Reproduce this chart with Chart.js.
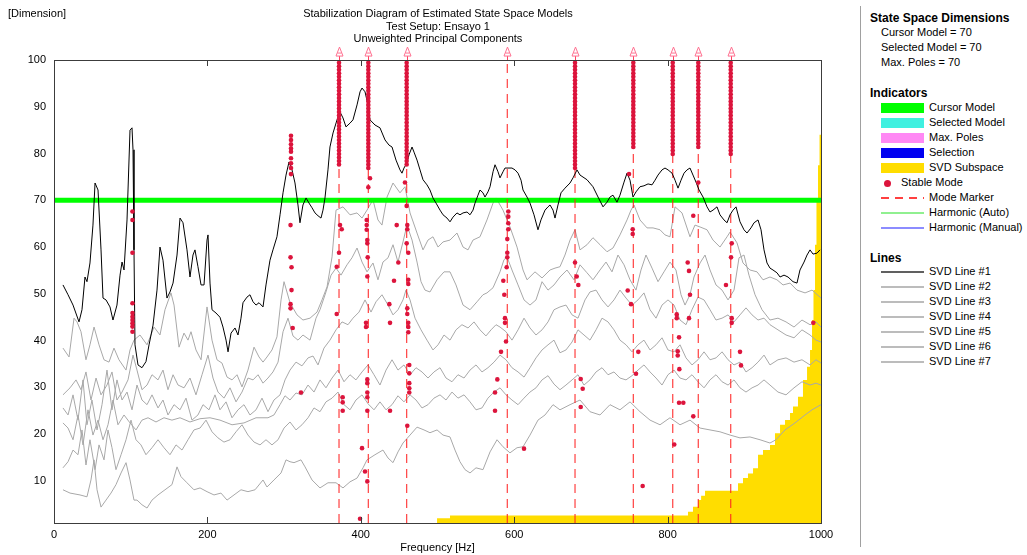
<!DOCTYPE html>
<html lang="en">
<head>
<meta charset="UTF-8">
<title>Stabilization Diagram of Estimated State Space Models</title>
<script src="https://cdn.jsdelivr.net/npm/chart.js"></script>
<style>
  body { margin: 0; background: #fff; font-family: Arial, "Liberation Sans", sans-serif; }
  #wrap { position: relative; width: 1027px; height: 555px; overflow: hidden; }
  #plot { position: absolute; left: 0; top: 0; width: 860px; height: 555px; }
  .t { position: absolute; font-size: 11px; line-height: 13px; color: #000; white-space: nowrap; }
  .h { position: absolute; font-size: 12px; line-height: 14px; font-weight: bold; color: #000; white-space: nowrap; }
  #title { left: 238px; width: 400px; top: 7px; text-align: center; line-height: 12.5px; }
  #sep { position: absolute; left: 860px; top: 6px; width: 1px; height: 541px; background: #a0a0a0; }
  .sw { position: absolute; left: 881px; width: 43px; height: 10px; }
  .ln { position: absolute; left: 881px; width: 43px; }
</style>
</head>
<body>
<div id="wrap">
  <div id="plot"><canvas id="stabChart"></canvas></div>
  <div class="t" style="left:8px; top:7px;">[Dimension]</div>
  <div class="t" id="title">Stabilization Diagram of Estimated State Space Models<br>Test Setup: Ensayo 1<br>Unweighted Principal Components</div>

  <div id="sep"></div>
  <div class="h" style="left:870px; top:11px;">State Space Dimensions</div>
  <div class="t" style="left:881px; top:26px;">Cursor Model = 70</div>
  <div class="t" style="left:881px; top:41px;">Selected Model = 70</div>
  <div class="t" style="left:881px; top:56px;">Max. Poles = 70</div>

  <div class="h" style="left:870px; top:86px;">Indicators</div>
  <div class="sw" style="top:103px; background:#00ff00;"></div>
  <div class="t" style="left:929px; top:101px;">Cursor Model</div>
  <div class="sw" style="top:118px; background:#40f0e0;"></div>
  <div class="t" style="left:929px; top:116px;">Selected Model</div>
  <div class="sw" style="top:133px; background:#ff88f4;"></div>
  <div class="t" style="left:929px; top:131px;">Max. Poles</div>
  <div class="sw" style="top:148px; background:#0000f0;"></div>
  <div class="t" style="left:929px; top:146px;">Selection</div>
  <div class="sw" style="top:163px; background:#ffdd00;"></div>
  <div class="t" style="left:929px; top:161px;">SVD Subspace</div>
  <div style="position:absolute; left:884px; top:180px; width:7px; height:7px; border-radius:50%; background:#dc143c;"></div>
  <div class="t" style="left:901px; top:176px;">Stable Mode</div>
  <div class="ln" style="top:197px; height:1.5px; background:repeating-linear-gradient(to right, #ff4040 0 8px, transparent 8px 14px);"></div>
  <div class="t" style="left:929px; top:191px;">Mode Marker</div>
  <div class="ln" style="top:212px; height:2px; background:#90f090;"></div>
  <div class="t" style="left:929px; top:206px;">Harmonic (Auto)</div>
  <div class="ln" style="top:227px; height:2px; background:#8c8cff;"></div>
  <div class="t" style="left:929px; top:221px;">Harmonic (Manual)</div>

  <div class="h" style="left:870px; top:251px;">Lines</div>
  <div class="ln" style="top:271px; height:2px; background:#606060;"></div>
  <div class="t" style="left:929px; top:265px;">SVD Line #1</div>
  <div class="ln" style="top:286px; height:1.5px; background:#bcbcbc;"></div>
  <div class="t" style="left:929px; top:280px;">SVD Line #2</div>
  <div class="ln" style="top:301px; height:1.5px; background:#bcbcbc;"></div>
  <div class="t" style="left:929px; top:295px;">SVD Line #3</div>
  <div class="ln" style="top:316px; height:1.5px; background:#bcbcbc;"></div>
  <div class="t" style="left:929px; top:310px;">SVD Line #4</div>
  <div class="ln" style="top:331px; height:1.5px; background:#bcbcbc;"></div>
  <div class="t" style="left:929px; top:325px;">SVD Line #5</div>
  <div class="ln" style="top:346px; height:1.5px; background:#bcbcbc;"></div>
  <div class="t" style="left:929px; top:340px;">SVD Line #6</div>
  <div class="ln" style="top:361px; height:1.5px; background:#bcbcbc;"></div>
  <div class="t" style="left:929px; top:355px;">SVD Line #7</div>
</div>

<script>
    // Axis ticks
    const freqTicks = [0, 200, 400, 600, 800, 1000];
    const dimTicks = [10, 20, 30, 40, 50, 60, 70, 80, 90, 100];
    const cursorModel = 70;
    const flagLevel = 101.7;
    const orderStep = 0.75;

    // Mode markers (Hz)
    const modeFreqs = [371.6, 409.8, 459.8, 591.0, 679.3, 755.3, 806.7, 840.0, 882.3];

    // Stable pole columns: [Hz, lowest order, highest order]
    const stableColumns = [
        [371.6, 77.0, 99.4], [409.8, 76.9, 99.4], [459.8, 77.5, 99.4], [679.3, 76.9, 99.4],
        [755.3, 80.8, 99.4], [806.7, 79.7, 99.4], [840.0, 80.8, 99.4], [882.3, 79.7, 99.4]
    ];

    // Single stable poles [Hz, dimension]
    const stablePoles = [
        [102.3,67.6],[102.3,65.8],[102.3,58.8],[102.3,48.0],[102.3,45.9],[102.3,45.1],[102.3,44.4],[102.3,43.7],[102.3,43.0],[102.3,41.9],
        [309.0,83.8],[309.0,82.9],[309.0,82.0],[309.0,81.1],[309.0,80.4],[309.0,79.0],[309.0,77.9],[309.0,76.9],[309.0,75.6],
        [308.4,64.7],[308.4,57.8],[309.7,55.7],[309.7,50.8],[308.4,47.8],[308.4,46.9],[311.2,42.7],[322.0,28.9],
        [372.9,64.7],[375.1,63.8],[371.6,58.8],[368.6,55.8],[368.6,45.7],[376.4,27.9],[376.4,26.8],[376.4,25.0],[399.0,1.9],[401.6,17.0],
        [412.0,74.7],[409.8,72.8],[407.7,65.8],[407.7,64.7],[407.7,63.7],[408.5,61.5],[408.5,60.8],[409.0,57.8],[408.5,53.7],
        [406.8,43.8],[406.8,42.9],[408.5,31.7],[408.5,30.9],[408.5,28.9],[408.5,27.9],[408.5,25.0],[405.5,12.0],[408.5,9.9],
        [446.8,64.7],[448.9,56.7],[443.3,52.8],[437.2,47.8],[438.1,43.8],[438.1,25.0],
        [457.6,73.8],[459.8,68.8],[460.6,64.7],[460.6,63.8],[459.8,60.8],[461.9,58.8],[461.9,53.0],[461.9,52.1],[460.6,46.9],
        [460.6,45.7],[461.9,43.8],[461.9,42.9],[461.9,41.8],[463.2,34.8],[463.2,33.0],[463.2,30.9],[463.2,29.8],[463.2,28.9],[460.6,21.8],
        [592.3,67.6],[592.3,66.5],[592.3,65.1],[592.3,63.8],[591.0,61.7],[591.0,58.8],[591.0,57.8],[590.2,55.7],[585.8,52.8],
        [587.1,49.8],[588.0,44.8],[588.0,43.8],[589.3,39.8],[582.8,37.6],[578.0,31.7],[575.0,28.9],[575.0,25.0],[612.8,16.9],
        [679.3,56.7],[681.5,53.7],[683.6,51.9],[686.7,31.8],[689.3,29.7],[686.7,25.8],
        [749.7,75.6],[754.5,63.8],[754.5,62.8],[748.0,50.7],[752.3,47.8],[761.8,37.6],[758.8,32.9],[767.5,8.9],
        [811.9,45.6],[811.9,44.8],[814.9,40.7],[813.2,37.7],[813.2,36.8],[815.3,33.9],[814.9,26.7],[820.5,26.7],[808.7,17.8],
        [826.2,56.7],[827.9,54.9],[829.2,49.8],[827.9,44.8],[833.5,66.7],[833.5,23.8],[840.0,73.8],
        [883.6,60.8],[882.7,57.8],[876.1,51.9],[883.6,44.8],[883.6,43.8],[894.4,37.6],[895.7,34.7],[990.0,43.8]
    ];

    // SVD lines [Hz, dimension]
    const svd1 = [
        [11.7,51.9],[18.3,49.8],[24.8,47.6],[32.6,44.0],[36.5,46.6],[40.4,53.6],[43.0,52.6],[46.9,56.6],[50.8,64.7],[53.5,73.7],
        [57.4,72.2],[61.3,59.4],[63.9,49.1],[67.8,48.7],[73.0,47.2],[76.9,44.4],[82.1,47.6],[86.1,54.0],[88.7,56.8],[91.3,55.1],
        [95.2,65.8],[99.1,85.0],[101.7,85.5],[103.0,80.8],[104.3,59.4],[105.6,39.1],[109.5,34.8],[114.7,34.2],[119.9,35.5],[123.9,39.1],
        [129.1,43.3],[134.3,50.8],[138.2,60.0],[142.1,57.2],[147.3,49.1],[151.2,50.4],[155.2,52.3],[160.4,58.3],[164.3,66.2],[168.2,65.2],
        [173.4,59.4],[177.3,53.6],[181.2,58.3],[183.8,59.4],[187.7,55.8],[191.7,51.9],[195.6,51.9],[199.5,61.5],[200.8,62.6],[203.4,52.3],
        [206.0,46.6],[211.2,45.9],[216.4,45.0],[220.3,42.9],[224.3,40.1],[226.9,37.6],[230.8,41.6],[236.0,42.7],[239.9,41.2],[243.8,44.8],
        [246.4,48.1],[251.6,49.3],[255.5,49.8],[259.5,48.3],[263.4,47.6],[267.3,48.1],[272.5,47.2],[276.4,51.9],[281.6,57.2],[285.5,59.4],
        [290.7,62.2],[294.7,66.9],[298.6,71.6],[302.5,75.4],[306.4,78.2],[310.3,76.5],[314.2,73.7],[318.1,69.0],[320.7,65.2],[324.6,69.0],
        [328.6,70.5],[332.5,69.4],[336.4,68.4],[340.3,67.3],[344.2,66.7],[348.1,66.2],[350.7,67.9],[353.3,70.5],[357.2,76.5],[359.8,81.4],
        [363.8,84.4],[369.0,87.2],[372.9,88.9],[376.8,87.6],[380.7,85.7],[385.9,86.5],[389.8,87.2],[395.1,90.4],[399.0,93.2],[401.6,94.0],
        [405.5,93.2],[409.4,90.4],[412.0,87.2],[418.5,86.1],[425.0,85.5],[431.6,82.9],[436.8,81.8],[440.7,81.4],[445.9,78.6],[451.1,76.5],
        [453.7,75.8],[456.3,76.9],[460.2,78.0],[462.8,79.7],[466.8,81.4],[469.4,80.3],[473.3,78.6],[477.2,76.5],[481.1,74.4],[486.3,73.3],
        [490.2,72.2],[494.1,70.5],[498.1,69.4],[503.3,67.9],[507.2,66.9],[512.4,66.2],[516.3,65.4],[520.2,66.4],[525.4,67.3],[529.3,66.9],
        [533.3,67.3],[538.5,67.5],[542.4,66.9],[546.3,67.9],[548.9,69.4],[552.8,71.1],[555.4,72.2],[559.3,71.6],[561.9,70.7],[565.8,71.8],
        [568.5,72.9],[572.4,76.1],[575.0,77.6],[578.9,76.1],[581.5,74.8],[585.4,76.1],[588.0,76.9],[591.9,76.9],[597.1,76.9],[601.1,76.5],
        [605.0,75.8],[608.9,74.3],[611.5,72.2],[616.7,70.7],[620.6,69.4],[625.8,66.9],[631.0,63.7],[634.9,65.8],[640.2,67.9],[644.1,68.6],
        [646.7,69.0],[650.6,67.9],[653.2,66.2],[657.1,69.0],[661.0,71.6],[666.2,72.6],[672.8,73.7],[676.7,74.8],[681.9,76.5],[685.8,75.4],
        [694.9,74.4],[702.7,72.9],[709.3,70.7],[715.8,68.6],[721.0,69.6],[724.9,70.7],[728.8,71.1],[734.0,69.6],[737.9,71.1],[743.2,73.9],
        [747.1,75.8],[751.0,74.3],[754.9,70.7],[758.8,71.8],[764.0,72.9],[769.2,73.1],[774.5,73.5],[779.7,73.3],[783.6,74.3],[787.5,75.4],
        [792.7,76.5],[796.6,76.9],[800.6,76.5],[805.8,75.8],[809.7,74.3],[813.6,72.6],[817.5,74.3],[821.4,75.8],[825.3,76.5],[829.2,76.9],
        [833.1,75.4],[837.0,73.9],[841.0,72.2],[846.2,70.7],[851.4,68.6],[855.3,67.5],[859.2,67.9],[864.4,68.6],[868.3,66.9],[873.5,65.8],
        [877.5,65.2],[881.4,66.9],[885.3,67.9],[889.2,68.6],[894.4,65.4],[899.6,63.7],[903.5,63.0],[908.7,64.1],[912.7,65.2],[917.9,65.8],
        [921.8,63.7],[925.7,59.4],[929.6,56.6],[933.5,55.5],[937.4,55.1],[942.6,54.5],[946.6,53.6],[951.8,54.0],[957.0,53.6],[963.5,52.6],
        [968.7,52.3],[972.6,55.1],[977.9,56.8],[981.8,58.3],[985.7,59.4],[989.6,58.5],[994.8,58.7],[998.7,59.4]
    ];
    const svd2 = [
        [11.7,38.4],[19.6,36.5],[26.1,44.8],[30.0,44.0],[35.2,41.9],[41.7,35.9],[46.9,39.1],[52.2,42.9],[58.7,39.1],[65.2,35.9],
        [71.7,35.4],[78.2,38.4],[84.7,35.9],[93.9,33.7],[99.1,38.0],[104.3,40.1],[112.1,41.2],[121.3,39.1],[130.4,42.9],[138.2,41.2],
        [144.7,46.6],[152.5,50.2],[156.5,47.6],[163.0,38.6],[169.5,41.6],[174.7,40.1],[178.6,41.9],[185.1,38.0],[191.7,35.9],[199.5,47.2],
        [206.0,40.1],[212.5,35.9],[219.0,35.2],[225.6,32.2],[232.1,31.6],[238.6,32.7],[245.1,30.1],[252.9,33.7],[260.8,38.6],[267.3,36.5],
        [272.5,35.4],[277.7,36.5],[284.2,38.0],[290.7,40.8],[296.0,48.7],[299.9,52.6],[307.7,48.1],[316.8,45.5],[324.6,44.4],[333.8,44.8],
        [342.9,46.1],[349.4,48.7],[356.0,51.5],[362.5,57.9],[367.7,67.9],[376.8,68.6],[385.9,66.9],[395.1,67.3],[401.6,66.2],[408.1,67.9],
        [415.9,70.1],[422.4,65.8],[427.6,64.7],[434.2,70.7],[442.0,73.7],[451.1,71.6],[457.6,72.9],[464.2,67.3],[473.3,63.0],[481.1,59.4],
        [487.6,61.5],[494.1,62.2],[500.7,60.0],[507.2,61.1],[516.3,61.5],[525.4,63.0],[533.3,60.0],[539.8,59.4],[546.3,61.5],[555.4,62.2],
        [564.5,65.8],[572.4,69.4],[576.3,70.5],[585.4,67.9],[594.5,64.3],[603.7,60.0],[611.5,55.1],[616.7,53.0],[627.1,54.7],[636.3,53.4],
        [646.7,55.1],[653.2,55.5],[659.7,55.8],[666.2,58.3],[672.8,61.5],[679.3,63.7],[685.8,59.4],[694.9,60.5],[702.7,62.0],[711.9,60.5],
        [721.0,59.0],[728.8,59.8],[737.9,62.6],[747.1,65.8],[752.3,67.9],[756.2,69.0],[764.0,65.8],[773.2,64.1],[781.0,64.1],[790.1,63.7],
        [796.6,62.6],[803.1,62.2],[809.7,68.6],[818.8,67.3],[829.2,62.2],[835.7,64.7],[842.3,64.3],[851.4,63.7],[859.2,61.5],[868.3,60.0],
        [877.5,62.2],[881.4,63.2],[890.5,60.9],[898.3,56.6],[907.4,55.1],[916.6,54.7],[924.4,53.0],[933.5,53.6],[942.6,53.0],[950.5,51.9],
        [959.6,52.3],[968.7,50.8],[979.2,50.2],[988.3,50.8],[1000,49.1]
    ];
    const svd3 = [
        [11.7,28.4],[20.9,29.9],[28.7,31.6],[35.2,29.5],[41.7,33.3],[48.2,27.3],[54.8,32.0],[61.3,28.4],[69.1,30.5],[75.6,33.3],
        [82.1,27.3],[88.7,29.0],[96.5,31.6],[103.0,36.9],[108.2,33.7],[114.7,29.5],[121.3,30.5],[127.8,32.7],[135.6,31.6],[142.1,33.7],
        [148.6,29.5],[155.2,32.7],[161.7,30.5],[169.5,29.9],[177.3,32.0],[185.1,28.4],[193.0,32.7],[200.8,36.9],[207.3,32.0],[213.8,29.0],
        [221.6,27.7],[229.5,29.9],[237.3,26.9],[245.1,29.0],[252.9,32.0],[259.5,31.6],[266.0,32.7],[272.5,30.9],[279.0,32.0],[285.5,33.3],
        [292.1,35.4],[298.6,41.9],[305.1,44.8],[311.6,41.0],[318.1,40.1],[324.6,41.2],[333.8,40.1],[341.6,44.8],[346.8,46.6],[354.6,50.4],
        [361.2,54.0],[367.7,55.5],[374.2,54.0],[382.0,56.2],[388.5,57.7],[395.1,59.8],[401.6,56.8],[408.1,54.7],[415.9,56.6],[422.4,53.0],
        [428.9,56.8],[435.5,57.7],[442.0,60.5],[448.5,56.8],[455.0,61.1],[460.2,64.7],[466.8,61.5],[473.3,56.8],[478.5,52.6],[483.7,50.8],
        [490.2,50.4],[499.4,53.0],[508.5,54.7],[516.3,54.7],[524.1,51.9],[533.3,47.6],[542.4,46.6],[551.5,48.3],[559.3,49.8],[564.5,50.2],
        [572.4,51.3],[581.5,54.7],[586.7,57.3],[590.6,57.9],[597.1,55.1],[605.0,51.9],[612.8,48.7],[620.6,47.6],[628.4,48.7],[636.3,52.6],
        [644.1,50.8],[651.9,51.9],[659.7,53.6],[668.8,55.1],[678.0,53.0],[685.8,56.2],[694.9,54.5],[702.7,53.0],[711.9,55.1],[719.7,56.8],
        [727.5,54.7],[735.3,58.3],[743.2,56.2],[751.0,53.0],[758.8,50.8],[765.3,55.1],[771.8,58.3],[779.7,55.5],[787.5,52.6],[795.3,54.7],
        [803.1,56.8],[810.9,55.1],[817.5,49.8],[822.7,47.6],[829.2,49.8],[834.4,53.6],[842.3,56.6],[848.8,58.3],[855.3,55.1],[863.1,51.9],
        [871.0,50.8],[878.8,48.7],[886.6,50.8],[893.1,57.7],[899.6,58.3],[906.1,54.0],[914.0,49.8],[923.1,46.6],[933.5,44.4],[943.9,44.8],
        [954.4,44.0],[964.8,42.9],[975.2,44.4],[985.7,43.4],[993.5,44.0],[1000,42.9]
    ];
    const svd4 = [
        [11.7,25.6],[18.3,24.1],[24.8,28.4],[31.3,23.0],[37.8,31.6],[43.0,22.0],[49.5,27.3],[56.1,20.9],[62.6,26.3],[69.1,33.7],
        [75.6,25.2],[82.1,31.6],[88.7,27.3],[95.2,29.0],[101.7,25.2],[108.2,30.5],[114.7,27.3],[121.3,26.3],[127.8,28.4],[135.6,25.6],
        [142.1,27.3],[148.6,24.1],[156.5,26.3],[164.3,25.2],[172.1,27.7],[179.9,23.0],[187.7,24.1],[194.3,26.3],[202.1,25.2],[209.9,28.4],
        [216.4,25.2],[224.3,26.9],[232.1,23.5],[239.9,25.2],[247.7,26.3],[255.5,24.1],[263.4,25.2],[271.2,27.7],[279.0,24.8],[286.8,27.3],
        [294.7,28.4],[301.2,31.6],[307.7,33.7],[315.5,35.4],[323.3,34.6],[331.2,36.3],[337.7,36.7],[344.2,34.8],[352.0,38.4],[359.8,40.1],
        [367.7,42.3],[375.5,44.0],[383.3,43.4],[389.8,44.8],[397.7,46.1],[405.5,48.7],[413.3,46.1],[419.8,48.3],[427.6,49.8],[435.5,47.6],
        [442.0,45.5],[448.5,46.6],[455.0,48.7],[458.9,50.8],[464.2,48.7],[470.7,44.8],[478.5,42.3],[486.3,40.1],[494.1,38.0],[500.7,39.1],
        [508.5,41.2],[516.3,40.1],[524.1,42.3],[531.9,43.4],[539.8,42.7],[547.6,44.0],[555.4,42.3],[563.2,41.0],[569.8,42.3],[576.3,43.4],
        [581.5,42.9],[589.3,41.9],[597.1,40.1],[605.0,42.3],[612.8,44.8],[620.6,42.7],[628.4,41.2],[636.3,42.3],[644.1,44.0],[651.9,46.6],
        [659.7,47.2],[667.5,47.6],[675.4,45.5],[683.2,44.8],[692.3,48.7],[698.8,50.4],[706.7,50.8],[714.5,48.7],[722.3,47.2],[730.1,48.7],
        [737.9,50.8],[745.8,49.1],[753.6,47.6],[761.4,48.7],[769.2,50.2],[777.1,46.6],[784.9,44.8],[792.7,47.6],[800.5,48.7],[808.4,47.6],
        [816.2,44.4],[824.0,43.4],[831.8,46.6],[839.6,49.3],[847.5,48.7],[855.3,46.6],[863.1,44.4],[871.0,44.8],[878.8,45.5],[886.6,44.0],
        [894.4,45.5],[902.2,47.0],[910.1,45.5],[917.9,44.4],[925.7,44.8],[933.5,43.4],[943.9,42.3],[954.4,41.2],[964.8,40.6],[975.2,42.3],
        [985.7,41.2],[993.5,40.1],[1000,39.7]
    ];
    const svd5 = [
        [11.7,22.4],[18.3,21.3],[24.8,18.8],[31.3,24.1],[37.8,17.7],[44.3,25.2],[50.8,19.8],[57.4,23.0],[63.9,18.8],[70.4,22.0],
        [76.9,27.3],[83.4,22.0],[91.3,24.1],[99.1,22.4],[106.9,20.9],[114.7,23.0],[122.6,23.5],[133.0,22.6],[143.4,23.5],[153.8,23.0],
        [164.3,23.5],[177.3,22.6],[190.4,23.3],[203.4,23.5],[216.4,23.0],[232.1,22.0],[247.7,22.4],[263.4,23.5],[279.0,23.5],[286.8,24.1],
        [294.7,26.3],[301.2,28.2],[307.7,27.3],[315.5,28.8],[323.3,28.4],[331.2,30.5],[339.0,29.0],[346.8,31.6],[354.6,29.9],[362.5,32.0],
        [370.3,33.7],[378.1,31.2],[385.9,32.7],[393.7,31.6],[401.6,33.3],[409.4,34.8],[417.2,32.7],[425.0,30.5],[432.9,33.7],[440.7,35.9],
        [448.5,33.7],[456.3,34.8],[464.2,32.7],[472.0,34.2],[479.8,33.3],[487.6,32.0],[495.4,33.3],[503.3,34.2],[511.1,32.0],[518.9,31.2],
        [526.7,32.7],[534.6,32.0],[542.4,33.7],[550.2,34.8],[558.0,33.3],[565.8,34.2],[573.7,35.4],[581.5,36.9],[589.3,35.9],[597.1,34.2],
        [605.0,33.3],[612.8,32.2],[620.6,34.2],[628.4,36.3],[636.3,38.0],[644.1,39.1],[651.9,40.1],[659.7,37.4],[667.5,38.0],[675.4,39.7],
        [683.2,42.3],[691.0,41.2],[698.8,40.1],[706.7,42.3],[714.5,44.8],[722.3,44.0],[730.1,42.3],[737.9,40.1],[745.8,39.1],[753.6,37.6],
        [761.4,39.1],[769.2,40.1],[777.1,38.0],[784.9,39.1],[792.7,40.6],[800.5,38.0],[808.4,37.6],[816.2,39.1],[824.0,36.3],[831.8,34.8],
        [839.6,35.9],[847.5,37.6],[855.3,35.9],[863.1,36.3],[871.0,37.6],[878.8,35.9],[886.6,34.8],[894.4,35.4],[902.2,33.3],[910.1,34.2],
        [917.9,35.4],[925.7,36.9],[933.5,34.8],[943.9,35.9],[954.4,36.3],[964.8,35.4],[975.2,35.9],[985.7,34.8],[993.5,35.9],[1000,35.2]
    ];
    const svd6 = [
        [11.7,12.8],[18.3,14.1],[24.8,16.6],[31.3,15.6],[36.5,20.9],[41.7,13.4],[46.9,18.8],[53.5,12.4],[58.7,17.7],[65.2,14.5],
        [70.4,20.9],[75.6,17.1],[80.8,12.4],[87.4,15.6],[93.9,18.8],[100.4,23.0],[106.9,18.8],[113.4,17.7],[119.9,15.6],[127.8,17.1],
        [135.6,18.8],[143.4,17.1],[151.2,15.6],[159.1,17.7],[166.9,16.6],[174.7,18.8],[182.5,20.9],[190.4,21.3],[198.2,23.0],[206.0,20.5],
        [213.8,19.2],[221.6,18.3],[229.5,18.8],[237.3,20.5],[245.1,22.0],[252.9,19.8],[260.8,18.3],[268.6,17.7],[276.4,18.8],[284.2,17.7],
        [292.1,18.8],[299.9,21.3],[307.7,22.6],[315.5,20.9],[323.3,22.0],[331.2,23.5],[339.0,25.6],[346.8,24.8],[354.6,26.9],[362.5,27.7],
        [370.3,29.0],[378.1,26.3],[385.9,25.2],[393.7,27.3],[401.6,28.4],[409.4,26.5],[417.2,25.2],[425.0,26.9],[432.9,25.2],[440.7,26.3],
        [448.5,28.2],[456.3,26.9],[464.2,28.4],[472.0,27.3],[479.8,25.6],[487.6,26.3],[495.4,27.7],[503.3,28.4],[511.1,27.3],[518.9,29.0],
        [526.7,27.7],[534.6,28.4],[542.4,26.9],[550.2,25.2],[558.0,25.6],[565.8,27.7],[573.7,29.0],[581.5,29.9],[589.3,28.4],[597.1,27.3],
        [605.0,26.3],[612.8,27.7],[620.6,29.0],[628.4,29.9],[636.3,31.6],[644.1,32.5],[651.9,30.7],[659.7,29.5],[667.5,30.5],[675.4,31.6],
        [683.2,32.7],[691.0,30.5],[698.8,31.6],[706.7,33.3],[714.5,34.2],[722.3,32.7],[730.1,33.3],[737.9,32.0],[745.8,31.6],[753.6,32.5],
        [761.4,33.7],[769.2,34.8],[777.1,33.3],[784.9,32.0],[792.7,30.5],[800.5,32.7],[808.4,33.7],[816.2,32.0],[824.0,31.6],[831.8,32.7],
        [839.6,31.2],[847.5,29.9],[855.3,31.6],[863.1,32.7],[871.0,31.2],[878.8,30.5],[886.6,31.6],[894.4,29.9],[902.2,29.0],[910.1,29.9],
        [917.9,30.5],[925.7,31.6],[933.5,30.5],[943.9,29.0],[954.4,28.4],[964.8,29.9],[975.2,31.2],[985.7,30.5],[993.5,30.9],[1000,30.5]
    ];
    const svd7 = [
        [11.7,8.1],[20.9,7.4],[33.9,7.0],[43.0,6.6],[48.2,10.2],[52.2,14.5],[56.1,8.1],[61.3,4.4],[67.8,5.9],[74.3,7.4],
        [80.8,9.2],[87.4,11.7],[93.9,13.9],[99.1,10.2],[104.3,5.9],[108.2,5.9],[114.7,4.9],[121.3,4.2],[127.8,5.9],[135.6,7.0],
        [144.7,8.1],[153.8,9.2],[160.4,13.0],[165.6,10.9],[173.4,9.6],[182.5,8.1],[190.4,8.5],[199.5,7.7],[208.6,7.0],[217.7,7.4],
        [225.6,5.9],[234.7,7.0],[243.8,8.1],[252.9,7.7],[262.1,8.1],[272.5,10.2],[277.7,8.7],[286.8,10.2],[296.0,11.7],[302.5,14.5],
        [307.7,14.1],[312.9,13.9],[322.0,14.5],[327.3,13.0],[336.4,10.2],[346.8,8.5],[357.2,9.6],[367.7,9.6],[376.8,8.5],[385.9,9.8],
        [395.1,10.6],[402.9,12.8],[408.1,14.5],[418.5,15.6],[428.9,16.6],[435.5,14.9],[442.0,13.9],[448.5,16.2],[455.0,18.1],[464.2,19.8],
        [473.3,21.5],[482.4,20.9],[490.2,20.3],[499.4,20.9],[507.2,19.8],[516.3,19.4],[522.8,16.6],[529.3,14.1],[535.9,12.4],[542.4,11.7],
        [550.2,12.8],[559.3,12.4],[568.5,16.2],[577.6,18.8],[585.4,17.3],[594.5,16.0],[603.7,17.1],[611.5,17.3],[620.6,19.8],[631.0,23.0],
        [640.2,24.1],[650.6,26.3],[659.7,25.2],[672.8,26.3],[685.8,27.3],[698.8,24.8],[711.9,24.1],[724.9,26.3],[737.9,25.2],[751.0,26.9],
        [764.0,24.8],[777.1,23.0],[790.1,22.0],[803.1,23.5],[816.2,22.0],[829.2,23.0],[842.3,21.3],[855.3,20.9],[868.3,20.5],[881.4,19.8],
        [894.4,19.2],[907.4,19.4],[920.5,18.8],[933.5,18.1],[941.3,18.8],[953.1,20.9],[966.1,22.4],[979.2,24.1],[988.3,25.2],[1000,26.3]
    ];

    // SVD subspace steps [start Hz, dimension]
    const subspace = [
        [499.4,2.0],[516.3,2.6],[826.6,3.4],[833.1,4.5],[839.6,5.9],[843.7,6.8],[848.8,7.9],[891.8,9.5],[898.3,10.6],[904.8,11.6],
        [911.4,12.7],[917.9,15.6],[924.4,16.6],[933.5,17.7],[940.0,20.2],[946.6,22.0],[953.1,23.0],[959.6,24.5],[963.5,25.9],[970.0,28.0],
        [976.5,31.6],[981.8,34.4],[985.7,38.0],[988.3,44.4],[990.2,50.8],[992.2,60.5],[994.1,70.1],[996.1,77.5],[998.1,84.0],[1000,84.0]
    ];

    const pts = arr => arr.map(p => ({x: p[0], y: p[1]}));

    // stable at every order inside a column's range
    const columnPoles = [];
    stableColumns.forEach(([f, lo, hi]) => {
        for (let d = hi; d >= lo - 0.01; d -= orderStep) columnPoles.push({x: f, y: d});
    });

    const grayLine = data => ({
        data: pts(data), showLine: true, pointRadius: 0,
        borderColor: '#a8a8a8', borderWidth: 1, order: 5
    });

    const markerSets = modeFreqs.map(f => ({
        data: [{x: f, y: 1}, {x: f, y: 100}], showLine: true, pointRadius: 0,
        borderColor: 'rgba(255,30,30,0.85)', borderWidth: 1.2, borderDash: [9, 6], order: 3
    }));

    // frame, inward ticks and the mode flags above the plot
    const framePlugin = {
        id: 'frame',
        afterDatasetsDraw(chart) {
            const {ctx, chartArea: a, scales: {x, y}} = chart;
            ctx.save();
            ctx.strokeStyle = '#3c3c3c';
            ctx.lineWidth = 1;
            ctx.strokeRect(a.left + 0.5, a.top + 0.5, a.right - a.left, a.bottom - a.top);
            freqTicks.slice(1, -1).forEach(f => {
                const px = Math.round(x.getPixelForValue(f)) + 0.5;
                ctx.beginPath();
                ctx.moveTo(px, a.top); ctx.lineTo(px, a.top + 6);
                ctx.moveTo(px, a.bottom); ctx.lineTo(px, a.bottom - 6);
                ctx.stroke();
            });
            const fy = y.getPixelForValue(flagLevel);
            modeFreqs.forEach(f => {
                const px = Math.round(x.getPixelForValue(f)) + 0.5;
                ctx.strokeStyle = '#ff4060';
                ctx.beginPath();
                ctx.moveTo(px, fy + 4); ctx.lineTo(px, a.top);
                ctx.stroke();
                ctx.strokeStyle = '#ff7090';
                ctx.beginPath();
                ctx.moveTo(px, fy - 5); ctx.lineTo(px - 3.5, fy + 4); ctx.lineTo(px + 3.5, fy + 4); ctx.closePath();
                ctx.moveTo(px - 2, fy + 1); ctx.lineTo(px + 2, fy + 1);
                ctx.stroke();
            });
            ctx.restore();
        }
    };

    Chart.defaults.font.family = 'Arial, "Liberation Sans", sans-serif';
    Chart.defaults.font.size = 11;
    Chart.defaults.color = '#000';

    new Chart(document.getElementById('stabChart'), {
        type: 'scatter',
        data: {
            datasets: [
                { data: pts(stablePoles).concat(columnPoles), pointRadius: 2.3, pointBorderWidth: 0,
                  backgroundColor: '#dc143c', order: 0 },
                { data: pts(svd1), showLine: true, pointRadius: 0, borderColor: '#000', borderWidth: 1, order: 2 },
                ...markerSets,
                { data: [{x: 0, y: cursorModel}, {x: 1000, y: cursorModel}], showLine: true, pointRadius: 0,
                  borderColor: '#00ff00', borderWidth: 5, order: 4 },
                grayLine(svd2), grayLine(svd3), grayLine(svd4), grayLine(svd5), grayLine(svd6), grayLine(svd7),
                { data: pts(subspace), showLine: true, stepped: 'before', pointRadius: 0, borderWidth: 0,
                  borderColor: '#ffdd00', backgroundColor: '#ffdd00', fill: 'start', order: 6 }
            ]
        },
        options: {
            responsive: true,
            maintainAspectRatio: false,
            animation: false,
            events: [],
            layout: { padding: { left: 0, right: 39, top: 60, bottom: 0 } },
            plugins: { legend: { display: false }, tooltip: { enabled: false } },
            scales: {
                x: {
                    type: 'linear', min: 0, max: 1000,
                    grid: { display: false, drawTicks: false },
                    border: { display: false },
                    afterBuildTicks: s => { s.ticks = freqTicks.map(v => ({value: v})); },
                    afterFit: s => { s.height = 32; },
                    ticks: { padding: 5, maxRotation: 0, callback: v => String(v) },
                    title: { display: true, text: 'Frequency [Hz]', padding: { top: 0, bottom: 0 } }
                },
                y: {
                    type: 'linear', min: 1, max: 100,
                    grid: { display: false, drawTicks: false },
                    border: { display: false },
                    afterBuildTicks: s => { s.ticks = dimTicks.map(v => ({value: v})); },
                    afterFit: s => { s.width = 54; },
                    ticks: { padding: 8, callback: v => String(v) }
                }
            }
        },
        plugins: [framePlugin]
    });
</script>
</body>
</html>
